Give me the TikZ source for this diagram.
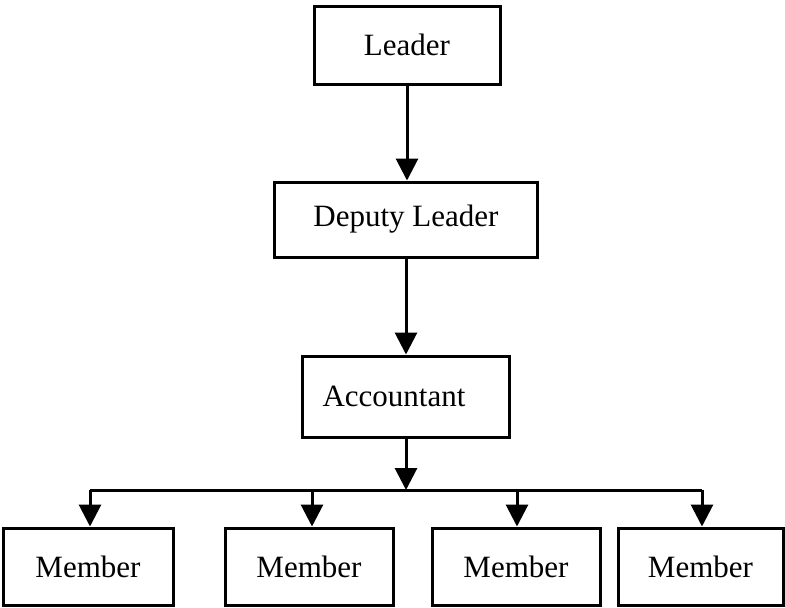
\documentclass[tikz,border=0pt]{standalone}
\usepackage{fontspec}
\setmainfont{Liberation Serif}
\usetikzlibrary{arrows.meta}
\begin{document}
\begin{tikzpicture}[x=1pt,y=1pt,
  rolebox/.style={draw=black,line width=3pt,rectangle,inner sep=0pt,
    font=\fontsize{31}{37}\selectfont},
  link/.style={draw=black,line width=3pt},
  down/.style={link,-{Triangle[width=22pt,length=22pt]}}]
  \useasboundingbox (0,0) rectangle (785,-608);

  % hierarchy boxes
  \node[rolebox,minimum width=186pt,minimum height=78pt] (leader) at (407,-45) {Leader};
  \node[rolebox,minimum width=263pt,minimum height=75pt] (deputy) at (406,-219.5) {\raisebox{6pt}{Deputy Leader}};
  \node[rolebox,text width=167pt,inner xsep=20pt,align=left,minimum height=81pt] (acc) at (406,-396.5) {\raisebox{-3pt}{Accountant}};
  \node[rolebox,minimum width=170pt,minimum height=77pt] (m1) at (88,-566.5) {Member};
  \node[rolebox,minimum width=168pt,minimum height=77pt] (m2) at (309,-566.5) {Member};
  \node[rolebox,minimum width=168pt,minimum height=77pt] (m3) at (516,-566.5) {Member};
  \node[rolebox,minimum width=165pt,minimum height=77pt] (m4) at (700.5,-566.5) {Member};

  % branch line above the members
  \coordinate (j) at (406,-490);
  \coordinate (b1) at (90,-490);
  \coordinate (b2) at (312,-490);
  \coordinate (b3) at (517,-490);
  \coordinate (b4) at (702,-490);

  \draw[down] (leader.south) -- (leader.south |- deputy.north);
  \draw[down] (deputy.south) -- (deputy.south |- acc.north);
  \draw[down] (acc.south) -- (j);
  \draw[link] (b1) -- (b4);
  \draw[down] (b1) -- (b1 |- m1.north);
  \draw[down] (b2) -- (b2 |- m2.north);
  \draw[down] (b3) -- (b3 |- m3.north);
  \draw[down] (b4) -- (b4 |- m4.north);
\end{tikzpicture}
\end{document}
